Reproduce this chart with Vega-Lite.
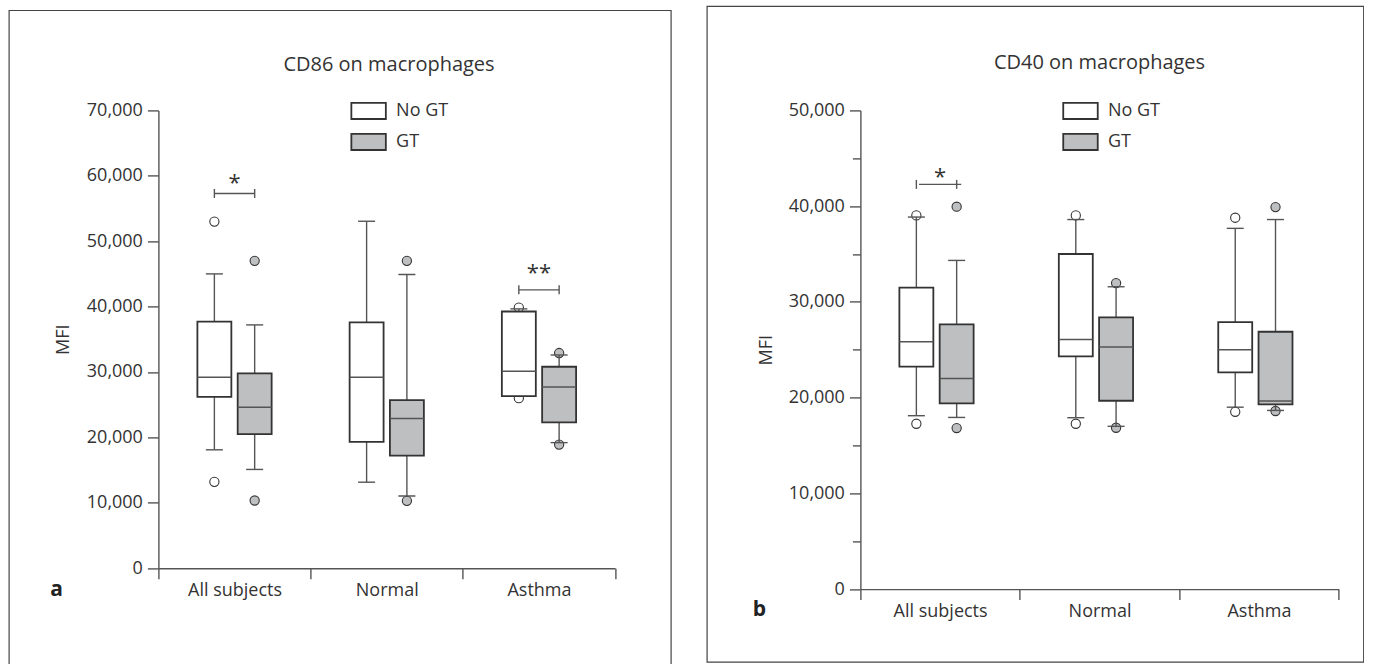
{
  "$schema": "https://vega.github.io/schema/vega-lite/v6.json",
  "padding": {"left": 8.4, "top": 5.4, "right": 0, "bottom": 0},
  "bounds": "flush",
  "spacing": 245,
  "config": {
    "font": "Open Sans",
    "view": {"stroke": null},
    "axis": {"labelFont": "Open Sans", "labelFontSize": 18, "labelColor": "#333", "domainColor": "#555", "domainWidth": 1.4, "tickColor": "#555", "tickWidth": 1.4, "grid": false, "titleFont": "Open Sans", "titleFontSize": 18, "titleFontWeight": "normal", "titleColor": "#333"},
    "legend": {"symbolType": "M-1,-0.47H1V0.47H-1Z", "symbolSize": 1190, "symbolStrokeColor": "#333", "symbolStrokeWidth": 1.8, "labelFont": "Open Sans", "labelFontSize": 18, "labelColor": "#333", "labelOffset": 9, "rowPadding": -1, "padding": 0}
  },
  "datasets": {
    "one": [{"k": 1}],
    "boxA": [
      {"cat": "All subjects", "grp": "No GT", "lo": 18100, "q1": 26200, "med": 29200, "q3": 37700, "hi": 45000},
      {"cat": "All subjects", "grp": "GT", "lo": 15100, "q1": 20500, "med": 24600, "q3": 29800, "hi": 37200},
      {"cat": "Normal", "grp": "No GT", "lo": 13150, "q1": 19300, "med": 29200, "q3": 37600, "hi": 53050},
      {"cat": "Normal", "grp": "GT", "lo": 11050, "q1": 17200, "med": 22900, "q3": 25700, "hi": 44900},
      {"cat": "Asthma", "grp": "No GT", "lo": 26300, "q1": 26300, "med": 30100, "q3": 39250, "hi": 39650},
      {"cat": "Asthma", "grp": "GT", "lo": 19200, "q1": 22300, "med": 27700, "q3": 30800, "hi": 32600}
    ],
    "outA": [
      {"cat": "All subjects", "grp": "No GT", "v": 53000},
      {"cat": "All subjects", "grp": "No GT", "v": 13200},
      {"cat": "All subjects", "grp": "GT", "v": 47000},
      {"cat": "All subjects", "grp": "GT", "v": 10350},
      {"cat": "Normal", "grp": "GT", "v": 47000},
      {"cat": "Normal", "grp": "GT", "v": 10300},
      {"cat": "Asthma", "grp": "No GT", "v": 39850},
      {"cat": "Asthma", "grp": "No GT", "v": 26000},
      {"cat": "Asthma", "grp": "GT", "v": 32900},
      {"cat": "Asthma", "grp": "GT", "v": 18900}
    ],
    "sigA": [
      {"cat": "All subjects", "y": 57300, "sy": 57800, "star": "*"},
      {"cat": "Asthma", "y": 42560, "sy": 44000, "star": "**"}
    ],
    "capA": [
      {"cat": "All subjects", "grp": "No GT", "y": 57300},
      {"cat": "All subjects", "grp": "GT", "y": 57300},
      {"cat": "Asthma", "grp": "No GT", "y": 42560},
      {"cat": "Asthma", "grp": "GT", "y": 42560}
    ],
    "boxB": [
      {"cat": "All subjects", "grp": "No GT", "lo": 18110, "q1": 23230, "med": 25840, "q3": 31480, "hi": 38860},
      {"cat": "All subjects", "grp": "GT", "lo": 17930, "q1": 19400, "med": 22000, "q3": 27650, "hi": 34330},
      {"cat": "Normal", "grp": "No GT", "lo": 17900, "q1": 24300, "med": 26080, "q3": 35000, "hi": 38600},
      {"cat": "Normal", "grp": "GT", "lo": 17000, "q1": 19670, "med": 25280, "q3": 28380, "hi": 31580},
      {"cat": "Asthma", "grp": "No GT", "lo": 19000, "q1": 22630, "med": 25000, "q3": 27890, "hi": 37680},
      {"cat": "Asthma", "grp": "GT", "lo": 18660, "q1": 19290, "med": 19640, "q3": 26880, "hi": 38600}
    ],
    "outB": [
      {"cat": "All subjects", "grp": "No GT", "v": 39030},
      {"cat": "All subjects", "grp": "No GT", "v": 17270},
      {"cat": "All subjects", "grp": "GT", "v": 39940},
      {"cat": "All subjects", "grp": "GT", "v": 16820},
      {"cat": "Normal", "grp": "No GT", "v": 39030},
      {"cat": "Normal", "grp": "No GT", "v": 17270},
      {"cat": "Normal", "grp": "GT", "v": 31960},
      {"cat": "Normal", "grp": "GT", "v": 16850},
      {"cat": "Asthma", "grp": "No GT", "v": 38790},
      {"cat": "Asthma", "grp": "No GT", "v": 18520},
      {"cat": "Asthma", "grp": "GT", "v": 39900},
      {"cat": "Asthma", "grp": "GT", "v": 18600}
    ],
    "sigB": [
      {"cat": "All subjects", "y": 42270, "sy": 42300, "star": "*"}
    ],
    "capB": [
      {"cat": "All subjects", "grp": "No GT", "y": 42270},
      {"cat": "All subjects", "grp": "GT", "y": 42270}
    ]
  },
  "resolve": {"scale": {"fill": "independent"}, "legend": {"fill": "independent"}},
  "hconcat": [
    {
      "width": 456.7,
      "height": 457.8,
      "resolve": {"scale": {"x": "independent"}},
      "layer": [
        {
          "layer": [
            {
              "data": {"name": "outA"},
              "mark": {"type": "point", "shape": "circle", "size": 85, "filled": true, "stroke": "#333", "strokeWidth": 1.1, "opacity": 1},
              "encoding": {
                "x": {"field": "cat", "type": "nominal", "scale": {"domain": ["All subjects", "Normal", "Asthma"], "paddingInner": 0, "paddingOuter": 0}, "axis": {"orient": "bottom", "title": null, "tickBand": "extent", "tickSize": 10.5, "labelAngle": 0, "labelPadding": 3}},
                "xOffset": {"field": "grp", "type": "nominal", "scale": {"domain": ["No GT", "GT"], "paddingInner": 0.157, "paddingOuter": 0.968}},
                "y": {"field": "v", "type": "quantitative", "scale": {"domain": [0, 70000], "nice": false, "zero": false}, "axis": {"orient": "left", "title": "MFI", "values": [0, 5000, 10000, 15000, 20000, 25000, 30000, 35000, 40000, 45000, 50000, 55000, 60000, 65000, 70000], "labelExpr": "datum.value % 10000 === 0 ? format(datum.value, ',') : ''", "tickSize": {"condition": {"test": "datum.value % 10000 === 0", "value": 11}, "value": 8}, "labelPadding": 5, "titlePadding": 14, "labelOverlap": false}},
                "fill": {"condition": {"test": "datum.grp === 'GT'", "value": "#bebfc1"}, "value": "#ffffff"}
              }
            },
            {
              "data": {"name": "boxA"},
              "mark": {"type": "rule", "color": "#555", "strokeWidth": 1.4},
              "encoding": {
                "x": {"field": "cat", "type": "nominal"},
                "xOffset": {"field": "grp", "type": "nominal"},
                "y": {"field": "lo", "type": "quantitative"},
                "y2": {"field": "hi"}
              }
            },
            {
              "data": {"name": "boxA"},
              "mark": {"type": "tick", "color": "#555", "thickness": 1.4, "size": 17, "opacity": 1},
              "encoding": {
                "x": {"field": "cat", "type": "nominal"},
                "xOffset": {"field": "grp", "type": "nominal"},
                "y": {"field": "lo", "type": "quantitative"}
              }
            },
            {
              "data": {"name": "boxA"},
              "mark": {"type": "tick", "color": "#555", "thickness": 1.4, "size": 17, "opacity": 1},
              "encoding": {
                "x": {"field": "cat", "type": "nominal"},
                "xOffset": {"field": "grp", "type": "nominal"},
                "y": {"field": "hi", "type": "quantitative"}
              }
            },
            {
              "data": {"name": "boxA"},
              "mark": {"type": "bar", "stroke": "#333", "strokeWidth": 1.8, "opacity": 1},
              "encoding": {
                "x": {"field": "cat", "type": "nominal"},
                "xOffset": {"field": "grp", "type": "nominal"},
                "y": {"field": "q1", "type": "quantitative"},
                "y2": {"field": "q3"},
                "fill": {"field": "grp", "type": "nominal", "scale": {"domain": ["No GT", "GT"], "range": ["#ffffff", "#bebfc1"]}, "legend": {"title": null, "orient": "none", "legendX": 191.7, "legendY": -18, "direction": "vertical"}}
              }
            },
            {
              "data": {"name": "boxA"},
              "mark": {"type": "bar", "stroke": "#555", "strokeWidth": 1.5, "fillOpacity": 0},
              "encoding": {
                "x": {"field": "cat", "type": "nominal"},
                "xOffset": {"field": "grp", "type": "nominal"},
                "y": {"field": "med", "type": "quantitative"},
                "y2": {"field": "med"}
              }
            },
            {
              "data": {"name": "sigA"},
              "mark": {"type": "tick", "color": "#555", "thickness": 1.4, "size": 40.3, "opacity": 1},
              "encoding": {
                "x": {"field": "cat", "type": "nominal"},
                "y": {"field": "y", "type": "quantitative"}
              }
            },
            {
              "data": {"name": "capA"},
              "mark": {"type": "point", "shape": "M0,-1L0,1", "size": 81, "filled": false, "stroke": "#555", "strokeWidth": 1.4, "opacity": 1},
              "encoding": {
                "x": {"field": "cat", "type": "nominal"},
                "xOffset": {"field": "grp", "type": "nominal"},
                "y": {"field": "y", "type": "quantitative"}
              }
            },
            {
              "data": {"name": "sigA"},
              "mark": {"type": "text", "fontSize": 22, "color": "#333", "baseline": "alphabetic", "align": "center"},
              "encoding": {
                "x": {"field": "cat", "type": "nominal"},
                "y": {"field": "sy", "type": "quantitative"},
                "text": {"field": "star"}
              }
            }
          ]
        },
        {
          "data": {"name": "one"},
          "layer": [
            {
              "mark": {"type": "rect", "fillOpacity": 0, "stroke": "#444", "strokeWidth": 1.2},
              "encoding": {
                "x": {"datum": -0.3269, "type": "quantitative", "scale": {"domain": [0, 1], "nice": false, "zero": false}, "axis": null},
                "x2": {"datum": 1.1226},
                "y": {"datum": 85275, "type": "quantitative", "scale": {"domain": [0, 70000], "nice": false, "zero": false}},
                "y2": {"datum": -15300}
              }
            },
            {
              "mark": {"type": "text", "fontSize": 20, "color": "#333", "baseline": "middle", "align": "center"},
              "encoding": {
                "x": {"datum": 0.505, "type": "quantitative"},
                "y": {"datum": 76942, "type": "quantitative"},
                "text": {"value": "CD86 on macrophages"}
              }
            },
            {
              "mark": {"type": "text", "fontSize": 21, "fontWeight": "bold", "color": "#222", "baseline": "middle", "align": "center"},
              "encoding": {
                "x": {"datum": -0.2227, "type": "quantitative"},
                "y": {"datum": -3364, "type": "quantitative"},
                "text": {"value": "a"}
              }
            }
          ]
        }
      ]
    },
    {
      "width": 478.3,
      "height": 478.7,
      "resolve": {"scale": {"x": "independent"}},
      "layer": [
        {
          "layer": [
            {
              "data": {"name": "outB"},
              "mark": {"type": "point", "shape": "circle", "size": 85, "filled": true, "stroke": "#333", "strokeWidth": 1.1, "opacity": 1},
              "encoding": {
                "x": {"field": "cat", "type": "nominal", "scale": {"domain": ["All subjects", "Normal", "Asthma"], "paddingInner": 0, "paddingOuter": 0}, "axis": {"orient": "bottom", "title": null, "tickBand": "extent", "tickSize": 10.5, "labelAngle": 0, "labelPadding": 3}},
                "xOffset": {"field": "grp", "type": "nominal", "scale": {"domain": ["No GT", "GT"], "paddingInner": 0.157, "paddingOuter": 0.968}},
                "y": {"field": "v", "type": "quantitative", "scale": {"domain": [0, 50000], "nice": false, "zero": false}, "axis": {"orient": "left", "title": "MFI", "values": [0, 5000, 10000, 15000, 20000, 25000, 30000, 35000, 40000, 45000, 50000], "labelExpr": "datum.value % 10000 === 0 ? format(datum.value, ',') : ''", "tickSize": {"condition": {"test": "datum.value % 10000 === 0", "value": 11}, "value": 8}, "labelPadding": 5, "titlePadding": 13, "labelOverlap": false}},
                "fill": {"condition": {"test": "datum.grp === 'GT'", "value": "#bebfc1"}, "value": "#ffffff"}
              }
            },
            {
              "data": {"name": "boxB"},
              "mark": {"type": "rule", "color": "#555", "strokeWidth": 1.4},
              "encoding": {
                "x": {"field": "cat", "type": "nominal"},
                "xOffset": {"field": "grp", "type": "nominal"},
                "y": {"field": "lo", "type": "quantitative"},
                "y2": {"field": "hi"}
              }
            },
            {
              "data": {"name": "boxB"},
              "mark": {"type": "tick", "color": "#555", "thickness": 1.4, "size": 17, "opacity": 1},
              "encoding": {
                "x": {"field": "cat", "type": "nominal"},
                "xOffset": {"field": "grp", "type": "nominal"},
                "y": {"field": "lo", "type": "quantitative"}
              }
            },
            {
              "data": {"name": "boxB"},
              "mark": {"type": "tick", "color": "#555", "thickness": 1.4, "size": 17, "opacity": 1},
              "encoding": {
                "x": {"field": "cat", "type": "nominal"},
                "xOffset": {"field": "grp", "type": "nominal"},
                "y": {"field": "hi", "type": "quantitative"}
              }
            },
            {
              "data": {"name": "boxB"},
              "mark": {"type": "bar", "stroke": "#333", "strokeWidth": 1.8, "opacity": 1},
              "encoding": {
                "x": {"field": "cat", "type": "nominal"},
                "xOffset": {"field": "grp", "type": "nominal"},
                "y": {"field": "q1", "type": "quantitative"},
                "y2": {"field": "q3"},
                "fill": {"field": "grp", "type": "nominal", "scale": {"domain": ["No GT", "GT"], "range": ["#ffffff", "#bebfc1"]}, "legend": {"title": null, "orient": "none", "legendX": 201.6, "legendY": -18, "direction": "vertical"}}
              }
            },
            {
              "data": {"name": "boxB"},
              "mark": {"type": "bar", "stroke": "#555", "strokeWidth": 1.5, "fillOpacity": 0},
              "encoding": {
                "x": {"field": "cat", "type": "nominal"},
                "xOffset": {"field": "grp", "type": "nominal"},
                "y": {"field": "med", "type": "quantitative"},
                "y2": {"field": "med"}
              }
            },
            {
              "data": {"name": "sigB"},
              "mark": {"type": "tick", "color": "#555", "thickness": 1.4, "size": 42.2, "opacity": 1},
              "encoding": {
                "x": {"field": "cat", "type": "nominal"},
                "y": {"field": "y", "type": "quantitative"}
              }
            },
            {
              "data": {"name": "capB"},
              "mark": {"type": "point", "shape": "M0,-1L0,1", "size": 81, "filled": false, "stroke": "#555", "strokeWidth": 1.4, "opacity": 1},
              "encoding": {
                "x": {"field": "cat", "type": "nominal"},
                "xOffset": {"field": "grp", "type": "nominal"},
                "y": {"field": "y", "type": "quantitative"}
              }
            },
            {
              "data": {"name": "sigB"},
              "mark": {"type": "text", "fontSize": 22, "color": "#333", "baseline": "alphabetic", "align": "center"},
              "encoding": {
                "x": {"field": "cat", "type": "nominal"},
                "y": {"field": "sy", "type": "quantitative"},
                "text": {"field": "star"}
              }
            }
          ]
        },
        {
          "data": {"name": "one"},
          "layer": [
            {
              "mark": {"type": "rect", "fillOpacity": 0, "stroke": "#444", "strokeWidth": 1.2},
              "encoding": {
                "x": {"datum": -0.3205, "type": "quantitative", "scale": {"domain": [0, 1], "nice": false, "zero": false}, "axis": null},
                "x2": {"datum": 1.0523},
                "y": {"datum": 60863, "type": "quantitative", "scale": {"domain": [0, 50000], "nice": false, "zero": false}},
                "y2": {"datum": -7625}
              }
            },
            {
              "mark": {"type": "text", "fontSize": 20, "color": "#333", "baseline": "middle", "align": "center"},
              "encoding": {
                "x": {"datum": 0.5, "type": "quantitative"},
                "y": {"datum": 54982, "type": "quantitative"},
                "text": {"value": "CD40 on macrophages"}
              }
            },
            {
              "mark": {"type": "text", "fontSize": 21, "fontWeight": "bold", "color": "#222", "baseline": "middle", "align": "center"},
              "encoding": {
                "x": {"datum": -0.2112, "type": "quantitative"},
                "y": {"datum": -2225, "type": "quantitative"},
                "text": {"value": "b"}
              }
            }
          ]
        }
      ]
    }
  ]
}
